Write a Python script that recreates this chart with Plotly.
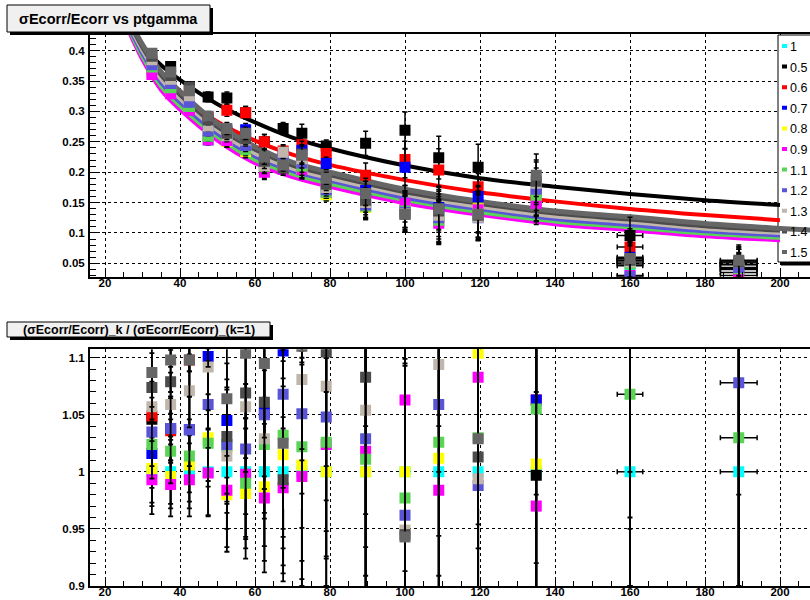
import plotly.graph_objects as go

W, H = 810, 600

# ---------------- data ----------------
pt = [32.5, 37.5, 42.5, 47.5, 52.5, 57.5, 62.5, 67.5, 72.5, 79, 89.5, 100, 109, 119.5, 135, 160, 189]
pt_err = [0, 0, 0, 0, 0, 0, 0, 0, 0, 0, 0, 0, 0, 0, 0, 3.4, 4.9]
sig_err = [0.006, 0.006, 0.007, 0.008, 0.01, 0.01, 0.012, 0.01, 0.015, 0.01, 0.02, 0.03, 0.035, 0.038, 0.035, 0.03, 0.025]
ratio_err = [0.03, 0.028, 0.032, 0.038, 0.05, 0.057, 0.065, 0.082, 0.1, 0.1, 0.12, 0.15, 0.15, 0.15, 0.2, 0.3, 0.4]

k_labels = ["1", "0.5", "0.6", "0.7", "0.8", "0.9", "1.1", "1.2", "1.3", "1.4", "1.5"]
k_colors = ["#00ffff", "#000000", "#ff0000", "#0000ff", "#ffff00", "#ff00ff",
            "#59d454", "#5954d8", "#c0b6ac", "#4c4c4c", "#666666"]

sig_k1 = [0.364, 0.333, 0.304, 0.253, 0.256, 0.239, 0.205, 0.208, 0.205, 0.163, 0.142, 0.139, 0.118, 0.127, 0.154, 0.046, 0.040]
sig_k05 = [0.381, 0.374, 0.341, 0.324, 0.322, 0.298, 0.250, 0.272, 0.264, 0.243, 0.2475, 0.269, 0.224, 0.208, 0.154, 0.096, 0.048]
sig_k06 = [0.382, 0.345, 0.334, 0.290, 0.302, 0.298, 0.250, 0.235, 0.245, 0.231, 0.195, 0.221, 0.2035, 0.176, 0.164, 0.077, 0.030]
sig_k07 = [0.370, 0.346, 0.315, 0.279, 0.268, 0.270, 0.216, 0.230, 0.236, 0.2145, 0.170, 0.208, 0.142, 0.160, 0.164, 0.060, 0.048]
sig_k08 = [0.365, 0.332, 0.306, 0.261, 0.251, 0.234, 0.202, 0.211, 0.206, 0.163, 0.142, 0.139, 0.119, 0.140, 0.155, 0.055, 0.048]
sig_k09 = [0.361, 0.329, 0.302, 0.253, 0.252, 0.239, 0.200, 0.205, 0.204, 0.167, 0.145, 0.148, 0.116, 0.138, 0.149, 0.030, 0.035]
sig_k11 = [0.373, 0.339, 0.308, 0.259, 0.262, 0.237, 0.210, 0.215, 0.210, 0.167, 0.144, 0.136, 0.121, 0.131, 0.162, 0.049, 0.041]
sig_k12 = [0.377, 0.346, 0.315, 0.268, 0.262, 0.244, 0.215, 0.222, 0.215, 0.171, 0.146, 0.134, 0.125, 0.125, 0.172, 0.028, 0.043]
sig_k13 = [0.385, 0.353, 0.326, 0.276, 0.260, 0.253, 0.211, 0.233, 0.222, 0.175, 0.150, 0.132, 0.129, 0.126, 0.182, 0.052, 0.052]
sig_k14 = [0.391, 0.359, 0.340, 0.286, 0.264, 0.255, 0.218, 0.207, 0.230, 0.180, 0.154, 0.131, 0.136, 0.129, 0.185, 0.055, 0.052]
sig_k15 = [0.396, 0.365, 0.334, 0.292, 0.272, 0.264, 0.225, 0.212, 0.228, 0.190, 0.165, 0.131, 0.140, 0.131, 0.195, 0.058, 0.055]

ratio_k1 = [1.0, 1.0, 1.0, 1.0, 1.0, 1.0, 1.0, 1.0, 1.0, 1.0, 1.0, 1.0, 1.0, 1.0, 1.0, 1.0, 1.0]
ratio_k05 = [1.046, 1.12, 1.12, 1.28, 1.26, 1.25, 1.22, 1.31, 1.29, 1.49, 1.74, 1.94, 1.90, 1.64, 0.997, 2.1, 1.2]
ratio_k06 = [1.049, 1.036, 1.098, 1.146, 1.18, 1.247, 1.22, 1.13, 1.194, 1.417, 1.373, 1.59, 1.72, 1.386, 1.063, 1.68, 0.75]
ratio_k07 = [1.016, 1.038, 1.037, 1.101, 1.045, 1.13, 1.052, 1.106, 1.15, 1.316, 1.2, 1.50, 1.2, 1.256, 1.063, 1.3, 1.2]
ratio_k08 = [1.003, 0.996, 1.006, 1.030, 0.980, 0.981, 0.987, 1.015, 1.006, 1.0, 1.0, 1.0, 1.012, 1.104, 1.007, 1.2, 1.2]
ratio_k09 = [0.993, 0.989, 0.993, 0.999, 0.984, 0.998, 0.977, 0.986, 0.996, 1.024, 1.018, 1.063, 0.984, 1.083, 0.970, 0.65, 0.87]
ratio_k11 = [1.024, 1.018, 1.014, 1.025, 1.022, 0.990, 1.024, 1.032, 1.022, 1.026, 1.011, 0.977, 1.026, 1.03, 1.055, 1.068, 1.030]
ratio_k12 = [1.035, 1.038, 1.037, 1.059, 1.024, 1.020, 1.05, 1.068, 1.051, 1.048, 1.029, 0.962, 1.059, 0.988, 1.12, 0.6, 1.078]
ratio_k13 = [1.057, 1.059, 1.071, 1.092, 1.014, 1.057, 1.029, 1.12, 1.081, 1.075, 1.054, 0.949, 1.094, 0.994, 1.18, 1.13, 1.3]
ratio_k14 = [1.074, 1.079, 1.12, 1.13, 1.031, 1.069, 1.061, 0.993, 1.12, 1.105, 1.083, 0.945, 1.15, 1.013, 1.2, 1.2, 1.3]
ratio_k15 = [1.087, 1.098, 1.098, 1.156, 1.064, 1.104, 1.095, 1.025, 1.11, 1.17, 1.16, 0.943, 1.19, 1.029, 1.27, 1.26, 1.38]

# fitted curves
fit_x = [26, 30, 35, 40, 50, 60, 70, 80, 100, 120, 140, 160, 180, 200]
fit_x_long = [26, 30, 35, 40, 50, 60, 70, 80, 100, 120, 140, 160, 180, 200, 210]
fit_k1 = [0.439, 0.388, 0.338, 0.306, 0.255, 0.218, 0.194, 0.178, 0.151, 0.132, 0.117, 0.107, 0.097, 0.090]
fit_k05 = [0.445, 0.408, 0.376, 0.352, 0.312, 0.282, 0.257, 0.239, 0.211, 0.190, 0.176, 0.164, 0.154, 0.146]
fit_k06 = [0.452, 0.400, 0.360, 0.328, 0.283, 0.252, 0.229, 0.212, 0.187, 0.167, 0.152, 0.1395, 0.1295, 0.121]
fit_k07 = [0.446, 0.396, 0.348, 0.316, 0.265, 0.227, 0.203, 0.187, 0.159, 0.140, 0.124, 0.114, 0.104, 0.097]
fit_k08 = [0.438, 0.386, 0.336, 0.304, 0.253, 0.216, 0.193, 0.177, 0.150, 0.131, 0.116, 0.106, 0.096, 0.089]
fit_k09 = [0.437, 0.385, 0.335, 0.303, 0.252, 0.215, 0.192, 0.176, 0.149, 0.130, 0.1145, 0.1046, 0.0947, 0.088]
fit_k11 = [0.441, 0.390, 0.341, 0.309, 0.258, 0.220, 0.197, 0.181, 0.154, 0.134, 0.119, 0.109, 0.099, 0.092]
fit_k12 = [0.445, 0.395, 0.347, 0.315, 0.263, 0.226, 0.202, 0.186, 0.158, 0.139, 0.123, 0.113, 0.103, 0.096]
fit_k13 = [0.449, 0.400, 0.353, 0.321, 0.269, 0.231, 0.206, 0.190, 0.163, 0.143, 0.127, 0.118, 0.107, 0.100]
fit_k14 = [0.453, 0.405, 0.359, 0.327, 0.274, 0.237, 0.211, 0.195, 0.167, 0.148, 0.132, 0.122, 0.111, 0.104]
fit_k15 = [0.457, 0.410, 0.365, 0.333, 0.280, 0.242, 0.216, 0.200, 0.172, 0.152, 0.136, 0.1265, 0.1156, 0.1075, 0.104]

sig_all = [sig_k1, sig_k05, sig_k06, sig_k07, sig_k08, sig_k09, sig_k11, sig_k12, sig_k13, sig_k14, sig_k15]
ratio_all = [ratio_k1, ratio_k05, ratio_k06, ratio_k07, ratio_k08, ratio_k09, ratio_k11, ratio_k12, ratio_k13, ratio_k14, ratio_k15]
fit_all = [fit_k1, fit_k05, fit_k06, fit_k07, fit_k08, fit_k09, fit_k11, fit_k12, fit_k13, fit_k14, fit_k15]

# ---------------- layout geometry (pixels) ----------------
PX_L, PX_R = 90, 810
TOP_T, TOP_B = 34, 276.7
BOT_T, BOT_B = 349.3, 586
XR = [16, 208]
YR_TOP = [0.028, 0.4275]
YR_BOT = [0.9, 1.1074]

FONT = "Liberation Sans, Arial, Helvetica, sans-serif"


def fx(px):
    return px / W


def fy(py):
    return 1 - py / H


# pixel -> data coordinates of the top panel (for the legend box, drawn under the traces)
def dx(px):
    return XR[0] + (px - PX_L) / (PX_R - PX_L) * (XR[1] - XR[0])


def dy(py):
    return YR_TOP[1] - (py - TOP_T) / (TOP_B - TOP_T) * (YR_TOP[1] - YR_TOP[0])


fig = go.Figure()

# fit curves (top panel)
for lab, col, fv in zip(k_labels, k_colors, fit_all):
    xs = fit_x_long if len(fv) == len(fit_x_long) else fit_x
    fig.add_trace(go.Scatter(
        x=xs, y=fv, mode="lines", line=dict(color=col, width=5 if lab == "1.5" else 4, shape="spline"),
        xaxis="x", yaxis="y", showlegend=False, hoverinfo="skip"))

# data points (top panel)
for lab, col, sv in zip(k_labels, k_colors, sig_all):
    fig.add_trace(go.Scatter(
        x=pt, y=sv, mode="markers",
        marker=dict(symbol="square", size=11, color=col, line=dict(width=0)),
        error_y=dict(type="data", array=sig_err, color="black", thickness=1.5, width=2.5),
        error_x=dict(type="data", array=pt_err, color="black", thickness=1.5, width=2.5),
        xaxis="x", yaxis="y", showlegend=False, name=lab))

# ratio points (bottom panel)
for lab, col, rv in zip(k_labels, k_colors, ratio_all):
    fig.add_trace(go.Scatter(
        x=pt, y=rv, mode="markers",
        marker=dict(symbol="square", size=11, color=col, line=dict(width=0)),
        error_y=dict(type="data", array=ratio_err, color="black", thickness=1.8, width=2.5),
        error_x=dict(type="data", array=pt_err, color="black", thickness=1.5, width=2.5),
        xaxis="x2", yaxis="y2", showlegend=False, name=lab))

tickfont = dict(family=FONT, size=11.5, color="black", weight="bold")
xcommon = dict(range=XR, dtick=20, tick0=0, ticks="inside", ticklen=9, tickwidth=1,
               tickcolor="black", showline=True, linecolor="black", linewidth=2, mirror=True,
               showgrid=True, gridcolor="black", griddash="dot", gridwidth=1, zeroline=False,
               tickfont=tickfont, ticklabelstandoff=-6, automargin=False,
               minor=dict(dtick=5, ticks="inside", ticklen=5, tickcolor="black", showgrid=False))
ycommon = dict(ticks="inside", ticklen=10, tickwidth=1, tickcolor="black",
               showline=True, linecolor="black", linewidth=2, mirror=False,
               showgrid=True, gridcolor="black", griddash="dot", gridwidth=1, zeroline=False,
               tickfont=tickfont, ticklabelstandoff=1, automargin=False)

fig.update_layout(
    width=W, height=H, margin=dict(l=0, r=0, t=0, b=0, autoexpand=False), autosize=False,
    paper_bgcolor="white", plot_bgcolor="white", showlegend=False,
    xaxis=dict(domain=[fx(PX_L), 1.0], anchor="y", **xcommon),
    yaxis=dict(domain=[fy(TOP_B), fy(TOP_T)], anchor="x", range=YR_TOP, dtick=0.05, tick0=0,
               minor=dict(dtick=0.01, ticks="inside", ticklen=6, tickcolor="black", showgrid=False),
               **ycommon),
    xaxis2=dict(domain=[fx(PX_L), 1.0], anchor="y2", **xcommon),
    yaxis2=dict(domain=[fy(BOT_B), fy(BOT_T)], anchor="x2", range=YR_BOT, dtick=0.05, tick0=0,
                minor=dict(dtick=0.01, ticks="inside", ticklen=6, tickcolor="black", showgrid=False),
                **ycommon),
)

shapes = []
annotations = []


def title_box(x0, y0, x1, y1, text, size):
    shapes.append(dict(type="rect", xref="paper", yref="paper", x0=fx(x0 + 3), x1=fx(x1 + 3),
                       y0=fy(y1 + 3), y1=fy(y0 + 3), fillcolor="black", line=dict(width=0), layer="above"))
    shapes.append(dict(type="rect", xref="paper", yref="paper", x0=fx(x0), x1=fx(x1),
                       y0=fy(y1), y1=fy(y0), fillcolor="#f0f0f0", line=dict(color="black", width=1),
                       layer="above"))
    annotations.append(dict(xref="paper", yref="paper", x=fx((x0 + x1) / 2), y=fy((y0 + y1) / 2),
                            text=text, showarrow=False, xanchor="center", yanchor="middle",
                            font=dict(family=FONT, size=size, color="black", weight="bold")))


title_box(7, 5, 210, 32, "σEcorr/Ecorr vs ptgamma", 14.5)
title_box(7, 322, 270, 337, "(σEcorr/Ecorr)_k / (σEcorr/Ecorr)_(k=1)", 12.5)

# legend box: above grid lines, below the traces
shapes.append(dict(type="rect", xref="x", yref="y", x0=dx(781), x1=dx(815),
                   y0=dy(265.5), y1=dy(38), fillcolor="black", line=dict(width=0), layer="between"))
shapes.append(dict(type="rect", xref="x", yref="y", x0=dx(778), x1=dx(812),
                   y0=dy(262), y1=dy(35), fillcolor="white", line=dict(color="black", width=1),
                   layer="between"))
for i, (lab, col) in enumerate(zip(k_labels, k_colors)):
    yc = 47 + 20.6 * i
    shapes.append(dict(type="rect", xref="x", yref="y", x0=dx(782), x1=dx(787),
                       y0=dy(yc + 1), y1=dy(yc - 3), fillcolor=col, line=dict(width=0), layer="between"))
    annotations.append(dict(xref="paper", yref="paper", x=fx(787.5), y=fy(yc), text=lab,
                            showarrow=False, xanchor="left", yanchor="middle",
                            font=dict(family=FONT, size=12.5, color="black")))

fig.update_layout(shapes=shapes, annotations=annotations)

post = ("document.documentElement.style.margin='0px';"
        "document.documentElement.style.overflow='hidden';"
        "document.body.style.margin='0px';"
        "document.body.style.overflow='hidden';")

fig.write_html("out.html", config={"displayModeBar": False, "responsive": False}, post_script=post)
